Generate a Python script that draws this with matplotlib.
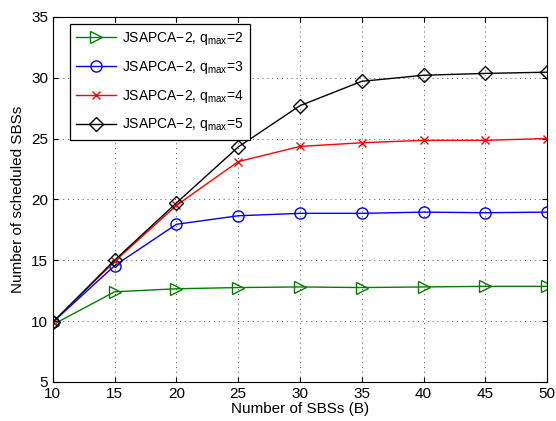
import matplotlib
matplotlib.use("Agg")
import matplotlib.pyplot as plt

plt.rcParams['font.family'] = ['Liberation Sans', 'DejaVu Sans']
plt.rcParams['mathtext.fontset'] = 'custom'
plt.rcParams['mathtext.rm'] = 'Liberation Sans'
plt.rcParams['mathtext.it'] = 'Liberation Sans'

sbs = [10, 15, 20, 25, 30, 35, 40, 45, 50]
q2 = [9.7, 12.4, 12.65, 12.75, 12.8, 12.75, 12.8, 12.85, 12.85]
q3 = [9.9, 14.55, 17.95, 18.65, 18.85, 18.85, 18.95, 18.9, 18.95]
q4 = [9.9, 14.9, 19.5, 23.1, 24.35, 24.65, 24.85, 24.85, 25.0]
q5 = [9.9, 15.0, 19.7, 24.3, 27.7, 29.7, 30.2, 30.35, 30.45]

fig = plt.figure(figsize=(5.56, 4.21), dpi=100)
ax = fig.add_axes([0.095, 0.093, 0.889, 0.867])

ax.plot(sbs, q2, color='#008000', marker='>', markersize=8, markerfacecolor='none', lw=1,
        label=r'JSAPCA$-$2, q$_{\mathrm{max}}$=2')
ax.plot(sbs, q3, color='blue', marker='o', markersize=8, markerfacecolor='none', lw=1,
        label=r'JSAPCA$-$2, q$_{\mathrm{max}}$=3')
ax.plot(sbs, q4, color='red', marker='x', markersize=6, lw=1,
        label=r'JSAPCA$-$2, q$_{\mathrm{max}}$=4')
ax.plot(sbs, q5, color='black', marker='D', markersize=7, markerfacecolor='none', lw=1,
        label=r'JSAPCA$-$2, q$_{\mathrm{max}}$=5')

ax.set_xlim(10, 50)
ax.set_ylim(5, 35)
ax.set_xticks(sbs)
ax.set_yticks(range(5, 36, 5))
ax.tick_params(direction='in', top=True, right=True, labelsize=11)
ax.grid(True, linestyle=(0, (1, 4)), color='#555555', linewidth=0.7)
ax.set_xlabel('Number of SBSs (B)', fontsize=11, labelpad=1)
ax.set_ylabel('Number of scheduled SBSs', fontsize=11)

leg = ax.legend(loc='upper left', bbox_to_anchor=(0.034, 0.981), borderaxespad=0,
                fontsize=10, fancybox=False, edgecolor='black', framealpha=1,
                handlelength=2.9, labelspacing=0.85, handletextpad=0.4, borderpad=0.45)
leg.get_frame().set_linewidth(0.9)

fig.savefig('out.png', dpi=100)
